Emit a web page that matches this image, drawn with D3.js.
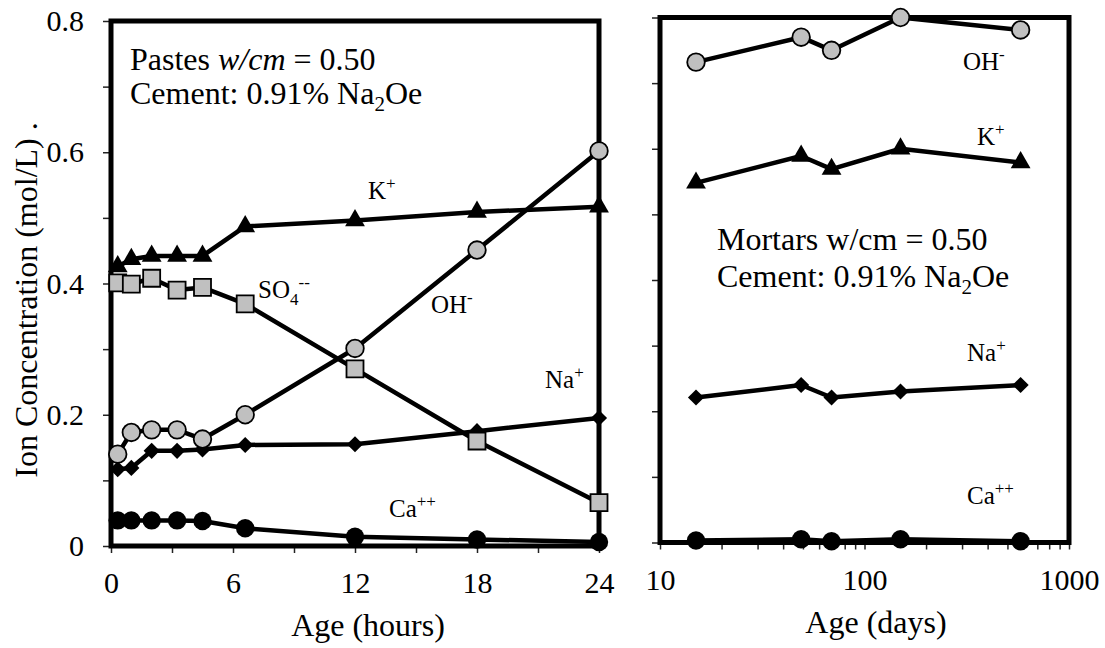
<!DOCTYPE html>
<html><head><meta charset="utf-8">
<script src="https://cdn.jsdelivr.net/npm/d3@7"></script>
<style>
body{margin:0;background:#fff}
text{font-family:"Liberation Serif","Times New Roman",serif;fill:#000}
</style>
</head><body><svg id="chart" width="1105" height="648"></svg>
<script>
// Pore solution ion concentrations: early-age pastes (hours) and mortars (days)
const pasteHours = [0.33, 1, 2, 3.25, 4.5, 6.6, 12, 18, 24];
const pasteOH  = [0.140, 0.173, 0.177, 0.177, 0.163, 0.200, 0.301, 0.451, 0.602];
const pasteK   = [0.426, 0.437, 0.442, 0.442, 0.442, 0.487, 0.496, 0.509, 0.517];
const pasteSO4 = [0.401, 0.399, 0.408, 0.390, 0.394, 0.369, 0.270, 0.160, 0.066];
const pasteNa  = [0.117, 0.119, 0.145, 0.145, 0.147, 0.154, 0.155, 0.175, 0.195];
const pasteCa  = [0.039, 0.039, 0.039, 0.039, 0.038, 0.027, 0.014, 0.010, 0.006];

const mortarDays = [15, 49, 69, 150, 580];
const mortarOH = [0.732, 0.770, 0.750, 0.800, 0.781];
const mortarK  = [0.548, 0.589, 0.569, 0.600, 0.579];
const mortarNa = [0.221, 0.240, 0.221, 0.230, 0.240];
const mortarCa = [0.003, 0.005, 0.002, 0.005, 0.002];

const hourTicks  = [0, 3, 6, 9, 12, 15, 18, 21, 24];
const hourLabels = [0, 6, 12, 18, 24];
const concTicks  = [0, 0.1, 0.2, 0.3, 0.4, 0.5, 0.6, 0.7, 0.8];
const concLabels = [0, 0.2, 0.4, 0.6, 0.8];
const dayLabels  = [10, 100, 1000];

const SERIF = '"Liberation Serif", "Times New Roman", serif';
const svg = d3.select("#chart");
svg.append("rect").attr("width", 1105).attr("height", 648).attr("fill", "#fff");

const xL = d3.scaleLinear([0, 24], [111, 599]);
const yL = d3.scaleLinear([0, 0.8], [546, 21]);
const xR = d3.scaleLog([10, 1000], [660, 1069]);
const yR = d3.scaleLinear([0, 0.8], [542.5, 17.5]);

function styleAxis(g) {
  g.attr("font-family", SERIF).attr("font-size", 30);
  g.select(".domain").remove();
  g.selectAll(".tick line").attr("stroke", "#222").attr("stroke-width", 1.5);
  g.selectAll(".tick text").attr("fill", "#000");
}

// ---- left panel axes
svg.append("g").attr("transform", `translate(0,${yL(0)})`)
  .call(d3.axisBottom(xL).tickValues(hourTicks).tickSize(7).tickPadding(19)
    .tickFormat(d => hourLabels.includes(d) ? d : ""))
  .call(styleAxis);
svg.append("g").attr("transform", `translate(${xL(0)},0)`)
  .call(d3.axisLeft(yL).tickValues(concTicks).tickSize(8).tickPadding(19)
    .tickFormat(d => concLabels.includes(d) ? String(d) : ""))
  .call(styleAxis);

// ---- right panel axes
svg.append("g").attr("transform", `translate(0,${yR(0)})`)
  .call(d3.axisBottom(xR).tickValues(xR.ticks()).tickSize(7).tickPadding(19.5)
    .tickFormat(d => dayLabels.includes(d) ? d : ""))
  .call(styleAxis);
svg.append("g").attr("transform", `translate(${xR(10)},0)`)
  .call(d3.axisLeft(yR).tickValues(concTicks).tickSize(8).tickFormat(""))
  .call(styleAxis);

// ---- frames
svg.append("rect").attr("x", xL(0)).attr("y", yL(0.8))
  .attr("width", xL(24) - xL(0)).attr("height", yL(0) - yL(0.8))
  .attr("fill", "none").attr("stroke", "#000").attr("stroke-width", 5);
svg.append("rect").attr("x", xR(10)).attr("y", yR(0.8))
  .attr("width", xR(1000) - xR(10)).attr("height", yR(0) - yR(0.8))
  .attr("fill", "none").attr("stroke", "#000").attr("stroke-width", 5);

// ---- series
const GRAY = "#c0c0c0";
const markers = {
  circleGray:  {type: d3.symbolCircle,   size: Math.PI * 8.8 * 8.8, fill: GRAY, stroke: "#000", sw: 1.8, rot: 0},
  circleBlack: {type: d3.symbolCircle,   size: Math.PI * 9.2 * 9.2, fill: "#000", stroke: "none", sw: 0, rot: 0},
  square:      {type: d3.symbolSquare,   size: 17 * 17,             fill: GRAY, stroke: "#000", sw: 1.8, rot: 0},
  triangle:    {type: d3.symbolTriangle, size: 170,                 fill: "#000", stroke: "none", sw: 0, rot: 0},
  diamond:     {type: d3.symbolSquare,   size: 130,                 fill: "#000", stroke: "none", sw: 0, rot: 45}
};

function drawSeries(xs, ys, x, y, m) {
  const g = svg.append("g");
  g.append("path").datum(xs.map((d, i) => [d, ys[i]]))
    .attr("fill", "none").attr("stroke", "#000").attr("stroke-width", 4.5)
    .attr("stroke-linejoin", "round")
    .attr("d", d3.line().x(d => x(d[0])).y(d => y(d[1])));
  const mk = markers[m];
  g.selectAll("path.pt").data(xs.map((d, i) => [d, ys[i]])).join("path")
    .attr("class", "pt")
    .attr("transform", d => `translate(${x(d[0])},${y(d[1])}) rotate(${mk.rot})`)
    .attr("d", d3.symbol(mk.type, mk.size))
    .attr("fill", mk.fill).attr("stroke", mk.stroke).attr("stroke-width", mk.sw);
}

drawSeries(pasteHours, pasteCa,  xL, yL, "circleBlack");
drawSeries(pasteHours, pasteNa,  xL, yL, "diamond");
drawSeries(pasteHours, pasteOH,  xL, yL, "circleGray");
drawSeries(pasteHours, pasteSO4, xL, yL, "square");
drawSeries(pasteHours, pasteK,   xL, yL, "triangle");

drawSeries(mortarDays, mortarCa, xR, yR, "circleBlack");
drawSeries(mortarDays, mortarNa, xR, yR, "diamond");
drawSeries(mortarDays, mortarK,  xR, yR, "triangle");
drawSeries(mortarDays, mortarOH, xR, yR, "circleGray");

// ---- ion labels with sub/superscripts
function ionLabel(x, y, parts, size = 25, small = 17) {
  const t = svg.append("text").attr("x", x).attr("y", y).style("font-size", size + "px");
  let off = 0;
  parts.forEach(([s, kind]) => {
    const target = kind === "sup" ? -10 : kind === "sub" ? 7 : 0;
    t.append("tspan").attr("dy", target - off)
      .style("font-size", (kind ? small : size) + "px").text(s);
    off = target;
  });
  return t;
}

ionLabel(368, 199, [["K"], ["+", "sup"]]);
ionLabel(258, 298, [["SO"], ["4", "sub"], ["--", "sup"]]);
ionLabel(431, 313, [["OH"], ["-", "sup"]]);
ionLabel(545, 388, [["Na"], ["+", "sup"]]);
ionLabel(389, 517, [["Ca"], ["++", "sup"]]);

ionLabel(963, 70,  [["OH"], ["-", "sup"]]);
ionLabel(977, 145, [["K"], ["+", "sup"]]);
ionLabel(967, 361, [["Na"], ["+", "sup"]]);
ionLabel(967, 504, [["Ca"], ["++", "sup"]]);

// ---- panel annotations
const t1 = svg.append("text").attr("x", 130).attr("y", 70).style("font-size", "32px");
t1.append("tspan").text("Pastes ");
t1.append("tspan").style("font-style", "italic").text("w/cm");
t1.append("tspan").text(" = 0.50");
ionLabel(130, 104, [["Cement: 0.91% Na"], ["2", "sub"], ["Oe"]], 32, 21);

svg.append("text").attr("x", 717).attr("y", 250).style("font-size", "32px")
  .text("Mortars w/cm = 0.50");
ionLabel(717, 287, [["Cement: 0.91% Na"], ["2", "sub"], ["Oe"]], 32, 21);

// ---- axis titles
svg.append("text").attr("x", 368).attr("y", 636).attr("text-anchor", "middle")
  .style("font-size", "32px").text("Age (hours)");
svg.append("text").attr("x", 876).attr("y", 633).attr("text-anchor", "middle")
  .style("font-size", "32px").text("Age (days)");
svg.append("text").attr("transform", "translate(37,300) rotate(-90)")
  .attr("text-anchor", "middle").style("font-size", "32px")
  .text("Ion Concentration (mol/L) .");
</script>
</body></html>
